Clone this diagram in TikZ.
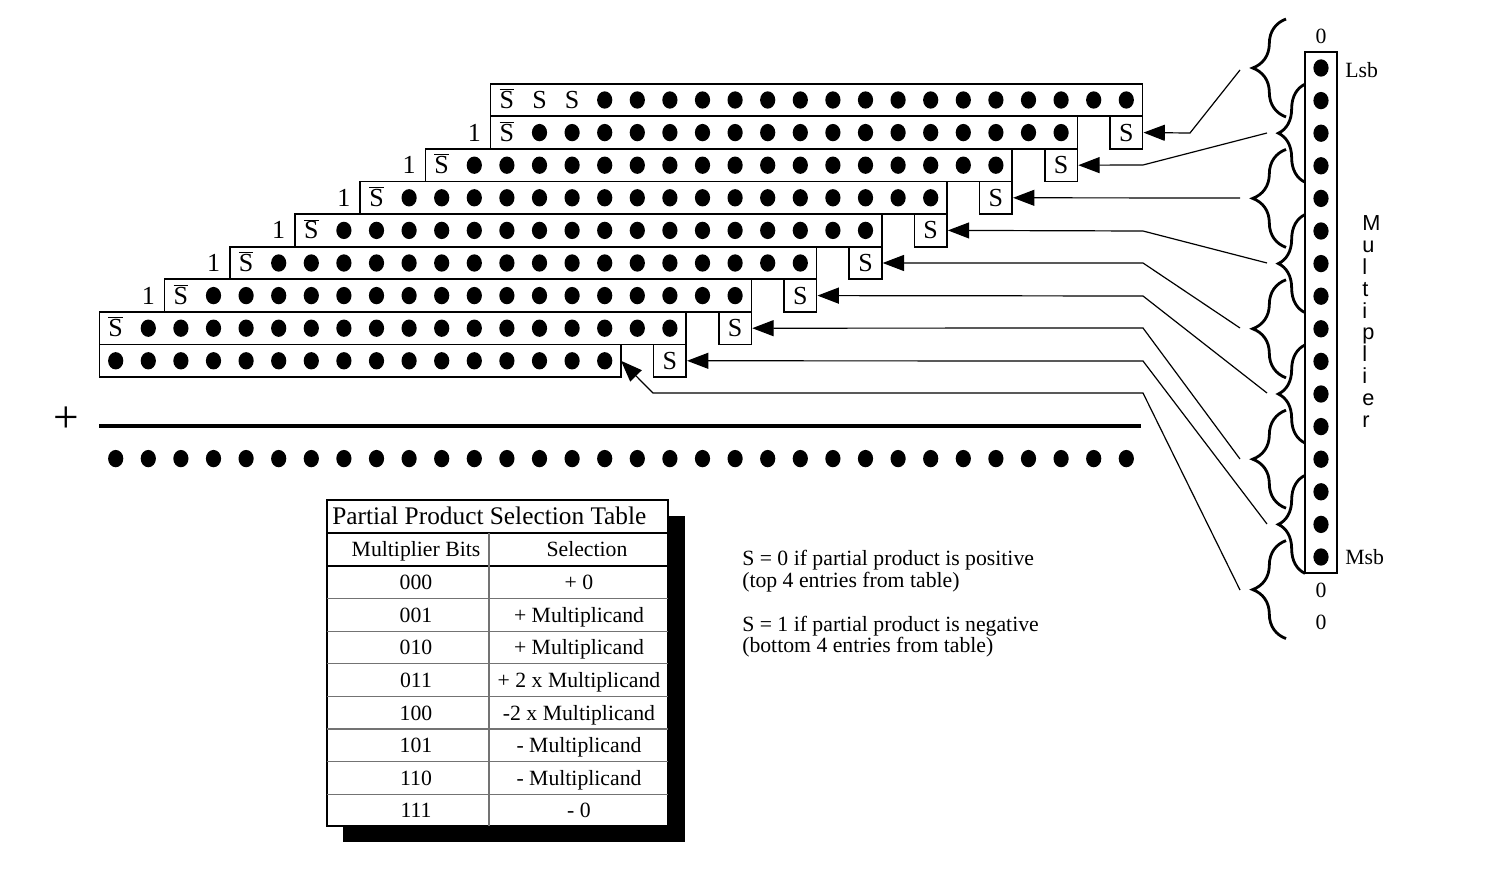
\documentclass[tikz,border=0pt]{standalone}
\usepackage{fontspec}
\setmainfont{Liberation Serif}
\newfontfamily\sansf{Liberation Sans}
\usetikzlibrary{arrows.meta,decorations.pathreplacing}
\newcommand\sbar{$\overline{\mbox{S}}$}
\begin{document}
\begin{tikzpicture}[x=0.75pt,y=-0.75pt,
  every node/.style={inner sep=0pt,font=\fontsize{16.3}{19.5}\selectfont},
  txt/.style={text height=10.8pt,text depth=0pt},
  big/.style={font=\fontsize{19.5}{22}\selectfont,text height=12.9pt,text depth=0pt},
  boxline/.style={line width=1.3pt},
  cell/.style={draw,line width=1.3pt,minimum width=24.45pt,minimum height=24.45pt,big},
  conn/.style={line width=0.9pt,-{Triangle[length=16pt,width=12pt]}},
  brc/.style={line width=2.1pt,decorate,decoration={brace,amplitude=#1}},
  bdot/.style={fill=black},
  tline/.style={line width=0.8pt,black!55},
]
\useasboundingbox (0,0) rectangle (1490,877);

% ---------- partial product rows ----------
% row 0
\draw[boxline] ({1126.3-32.6*19-16.3},83.7) rectangle ({1126.3+16.3},116.3);
\node[big] (sb0) at ({1126.3-32.6*19},100) {\sbar};
\node[big] (r0s1) at ({1126.3-32.6*18},100) {S};
\node[big] (r0s2) at ({1126.3-32.6*17},100) {S};
\foreach \c in {0,...,16}
  \fill[bdot] ({1126.3-32.6*\c},100) ellipse [x radius=5.7pt,y radius=6.5pt];

% rows 1..7
\foreach \i in {1,...,7}{
  \draw[boxline] ({1126.3-32.6*(2*\i+17)-16.3},{100+32.6*\i-16.3}) rectangle ({1126.3-32.6*(2*\i)+16.3},{100+32.6*\i+16.3});
  \node[big] (sb\i) at ({1126.3-32.6*(2*\i+17)},{100+32.6*\i}) {\sbar};
  \foreach \c in {0,...,16}
    \fill[bdot] ({1126.3-32.6*(\c+2*\i)},{100+32.6*\i}) ellipse [x radius=5.7pt,y radius=6.5pt];
}
\foreach \i in {1,...,6}
  \node[big] (one\i) at ({1126.3-32.6*(2*\i+18)},{100+32.6*\i}) {1};

% row 8
\draw[boxline] ({1126.3-32.6*31-16.3},{360.8-16.3}) rectangle ({1126.3-32.6*16+16.3},{360.8+16.3});
\coordinate (row8e) at ({1126.3-32.6*16+16.3},360.8);
\foreach \c in {16,...,31}
  \fill[bdot] ({1126.3-32.6*\c},360.8) ellipse [x radius=5.7pt,y radius=6.5pt];

% S cells
\foreach \i in {1,...,8}
  \node[cell] (s\i) at ({1126.3-32.6*(2*\i-2)},{100+32.6*\i}) {S};

% sum
\node[font=\fontsize{34}{36}\selectfont] (plus) at (66,420) {+};
\draw[line width=2.6pt] (99,426) -- (1141,426);
\foreach \c in {0,...,31}
  \fill[bdot] ({1126.3-32.6*\c},458.6) ellipse [x radius=5.7pt,y radius=6.5pt];

% ---------- multiplier ----------
\draw[boxline] (1305,52) rectangle (1337,573);
\foreach \b in {0,...,15}
  \fill[bdot] (1321,{68+32.6*\b}) ellipse [x radius=5.7pt,y radius=6.5pt];
\node[txt] (z0) at (1321,36) {0};
\node[txt] (z1) at (1321,590) {0};
\node[txt] (z2) at (1321,622) {0};
\node[txt,anchor=west] (lsb) at (1345,70) {Lsb};
\node[txt,anchor=west] (msb) at (1345,557) {Msb};
\node[font=\sansf\fontsize{16.3}{16.4}\selectfont,align=left,anchor=north west] (mult) at (1362,215.4)
  {M\\u\\l\\t\\i\\p\\l\\i\\e\\r};

% braces
\foreach \b in {0,4,8,12,16}
  \draw[brc=25pt] (1286,{68+32.6*\b+49}) -- (1286,{68+32.6*\b-49});
\foreach \b in {2,6,10,14}
  \draw[brc=20pt] (1305,{68+32.6*\b+49}) -- (1305,{68+32.6*\b-49});

\coordinate (b0) at (1240,70);
\coordinate (b1) at (1267,133);
\coordinate (b2) at (1240,198);
\coordinate (b3) at (1267,263);
\coordinate (b4) at (1240,328);
\coordinate (b5) at (1267,393);
\coordinate (b6) at (1240,459);
\coordinate (b7) at (1267,524);
\coordinate (b8) at (1240,590);

\draw[conn] (b0) -- (1190,133) -- (s1.east);
\draw[conn] (b1) -- (1143,165) -- (s2.east);
\draw[conn] (b2) -- (s3.east);
\draw[conn] (b3) -- (1143,231) -- (s4.east);
\draw[conn] (b4) -- (1143,263) -- (s5.east);
\draw[conn] (b5) -- (1143,296) -- (s6.east);
\draw[conn] (b6) -- (1143,328) -- (s7.east);
\draw[conn] (b7) -- (1143,361) -- (s8.east);
\draw[conn] (b8) -- (1143,393) -- (653,393) -- (row8e);

% ---------- table ----------
\fill (343,516) rectangle (685,842);
\filldraw[fill=white,line width=1.3pt] (327,500) rectangle (668,826);
\draw[line width=1.1pt] (327,533) -- (668,533);
\draw[line width=1.1pt] (327,566) -- (668,566);
\foreach \j in {1,...,7}
  \draw[tline] (327,{566+32.6*\j}) -- (668,{566+32.6*\j});
\draw[tline] (489,533) -- (489,826);
\node[font=\fontsize{19}{22}\selectfont,text height=12.6pt,text depth=0pt,anchor=west] (title) at (332,516.5) {Partial Product Selection Table};
\node[txt] (h1) at (416,549.5) {Multiplier Bits};
\node[txt] (h2) at (587,549.5) {Selection};
\foreach \bits/\sel [count=\j from 0] in {000/+ 0,001/+ Multiplicand,010/+ Multiplicand,011/+ 2 x Multiplicand,100/-2 x Multiplicand,101/- Multiplicand,110/- Multiplicand,111/- 0}{
  \node[txt] (tb\j) at (416,{582.5+32.6*\j}) {\bits};
  \node[txt] (ts\j) at (579,{582.5+32.6*\j}) {\sel};
}

% ---------- notes ----------
\node[txt,anchor=west] (n1) at (742,558) {S = 0 if partial product is positive};
\node[txt,anchor=west] (n2) at (742,580) {(top 4 entries from table)};
\node[txt,anchor=west] (n3) at (742,624) {S = 1 if partial product is negative};
\node[txt,anchor=west] (n4) at (742,645) {(bottom 4 entries from table)};
\end{tikzpicture}
\end{document}
